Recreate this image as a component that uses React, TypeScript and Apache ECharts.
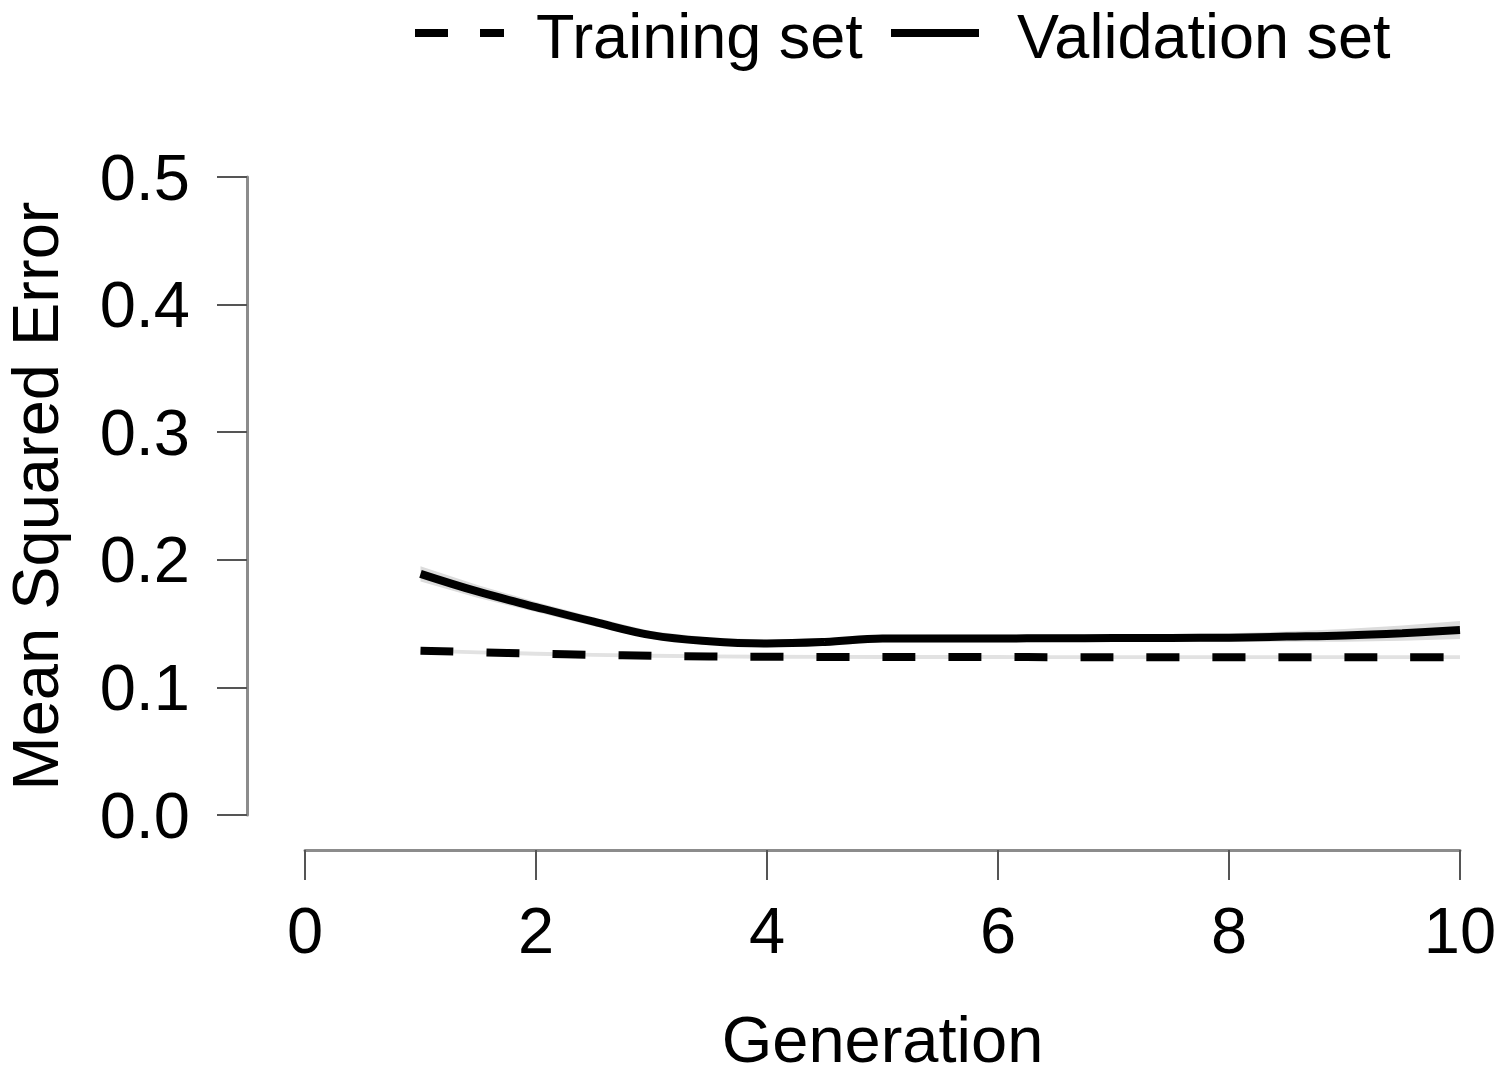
import React, { useEffect, useRef } from "react";
import * as echarts from "echarts";

const generation = [1, 1.5, 2, 2.5, 3, 3.5, 4, 4.5, 5, 5.5, 6, 6.5, 7, 7.5, 8, 8.5, 9, 9.5, 10];
const validationMSE = [0.189, 0.175, 0.163, 0.1515, 0.141, 0.1362, 0.1344, 0.1356, 0.1383, 0.1384, 0.1384, 0.1385, 0.1387, 0.1388, 0.139, 0.1398, 0.1407, 0.1425, 0.145];
const trainingMSE = [0.1288, 0.1275, 0.1264, 0.1255, 0.1248, 0.1243, 0.124, 0.1239, 0.1238, 0.1238, 0.1238, 0.1237, 0.1237, 0.1237, 0.1237, 0.1237, 0.1237, 0.1237, 0.1237];
const validationSpread = [0.006, 0.005, 0.004, 0.0035, 0.003, 0.003, 0.003, 0.003, 0.003, 0.003, 0.003, 0.003, 0.003, 0.003, 0.0035, 0.004, 0.005, 0.006, 0.007];
const trainingSpread = [0.0015, 0.0015, 0.0015, 0.0015, 0.0015, 0.0015, 0.0015, 0.0015, 0.0015, 0.0015, 0.0015, 0.0015, 0.0015, 0.0015, 0.0015, 0.0015, 0.0015, 0.0015, 0.0015];
const legendLabels = ["Training set", "Validation set"];
const xTitle = "Generation";
const yTitle = "Mean Squared Error";

const FONT = "'Liberation Sans', Arial, Helvetica, sans-serif";
const FS = 65;
const LFS = 63;

export default function App() {
  const ref = useRef<HTMLDivElement>(null);
  useEffect(() => {
    if (!ref.current) return;
    const chart = echarts.init(ref.current, null, { renderer: "svg" });
    const pts = (ys: number[]) => generation.map((x, i) => [x, ys[i]]);
    const bandSeries = (ys: number[], s: number[], color: string) => ({
      type: "custom",
      silent: true,
      z: 2,
      data: [0],
      renderItem: (_params: any, api: any) => {
        const up = generation.map((x, i) => api.coord([x, ys[i] + s[i]]));
        const lo = generation.map((x, i) => api.coord([x, ys[i] - s[i]])).reverse();
        return {
          type: "polygon",
          shape: { points: up.concat(lo) },
          style: { fill: color, stroke: null },
        };
      },
    });
    chart.setOption({
      animation: false,
      backgroundColor: "#ffffff",
      grid: { left: 305, right: 40, top: 177, bottom: 263, containLabel: false, outerBoundsMode: "none" },
      xAxis: {
        type: "value",
        min: 0,
        max: 10,
        interval: 2,
        offset: 35,
        position: "bottom",
        axisLine: { show: true, onZero: false, lineStyle: { color: "#8c8c8c", width: 3 } },
        axisTick: { show: true, length: 30, lineStyle: { color: "#555555", width: 2 } },
        axisLabel: { fontSize: FS, color: "#000", fontFamily: FONT, margin: 48 },
        splitLine: { show: false },
        name: xTitle,
        nameLocation: "middle",
        nameGap: 157,
        nameTextStyle: { fontSize: FS, color: "#000", fontFamily: FONT },
      },
      yAxis: {
        type: "value",
        min: 0,
        max: 0.5,
        interval: 0.1,
        offset: 58,
        axisLine: { show: true, onZero: false, lineStyle: { color: "#8c8c8c", width: 3 } },
        axisTick: { show: true, length: 30, lineStyle: { color: "#555555", width: 2 } },
        axisLabel: {
          fontSize: FS,
          color: "#000",
          fontFamily: FONT,
          margin: 57,
          formatter: (v: number) => v.toFixed(1),
        },
        splitLine: { show: false },
        name: yTitle,
        nameLocation: "middle",
        nameRotate: 90,
        nameGap: 179,
        nameTextStyle: { fontSize: FS, color: "#000", fontFamily: FONT },
      },
      series: [
        bandSeries(validationMSE, validationSpread, "#dcdcdc"),
        bandSeries(trainingMSE, trainingSpread, "#e2e2e2"),
        {
          type: "line",
          name: legendLabels[0],
          data: pts(trainingMSE),
          symbol: "none",
          smooth: 0.4,
          z: 5,
          lineStyle: { color: "#000", width: 8, type: [33, 33], cap: "butt" },
        },
        {
          type: "line",
          name: legendLabels[1],
          data: pts(validationMSE),
          symbol: "none",
          smooth: 0.4,
          z: 5,
          lineStyle: { color: "#000", width: 8, type: "solid" },
        },
      ],
      graphic: [
        {
          type: "line",
          shape: { x1: 415, y1: 33, x2: 504, y2: 33 },
          style: { stroke: "#000", lineWidth: 8, lineDash: [33, 32] },
        },
        {
          type: "text",
          x: 536,
          y: 36,
          style: {
            text: legendLabels[0],
            fontSize: LFS,
            fontFamily: FONT,
            fill: "#000",
            verticalAlign: "middle",
            align: "left",
          },
        },
        {
          type: "line",
          shape: { x1: 891, y1: 33, x2: 979, y2: 33 },
          style: { stroke: "#000", lineWidth: 8 },
        },
        {
          type: "text",
          x: 1017,
          y: 36,
          style: {
            text: legendLabels[1],
            fontSize: LFS,
            fontFamily: FONT,
            fill: "#000",
            verticalAlign: "middle",
            align: "left",
          },
        },
      ],
    });
    return () => chart.dispose();
  }, []);
  return (
    <div
      ref={ref}
      style={{ position: "absolute", left: 0, top: 0, width: 1500, height: 1078, background: "#fff" }}
    />
  );
}
